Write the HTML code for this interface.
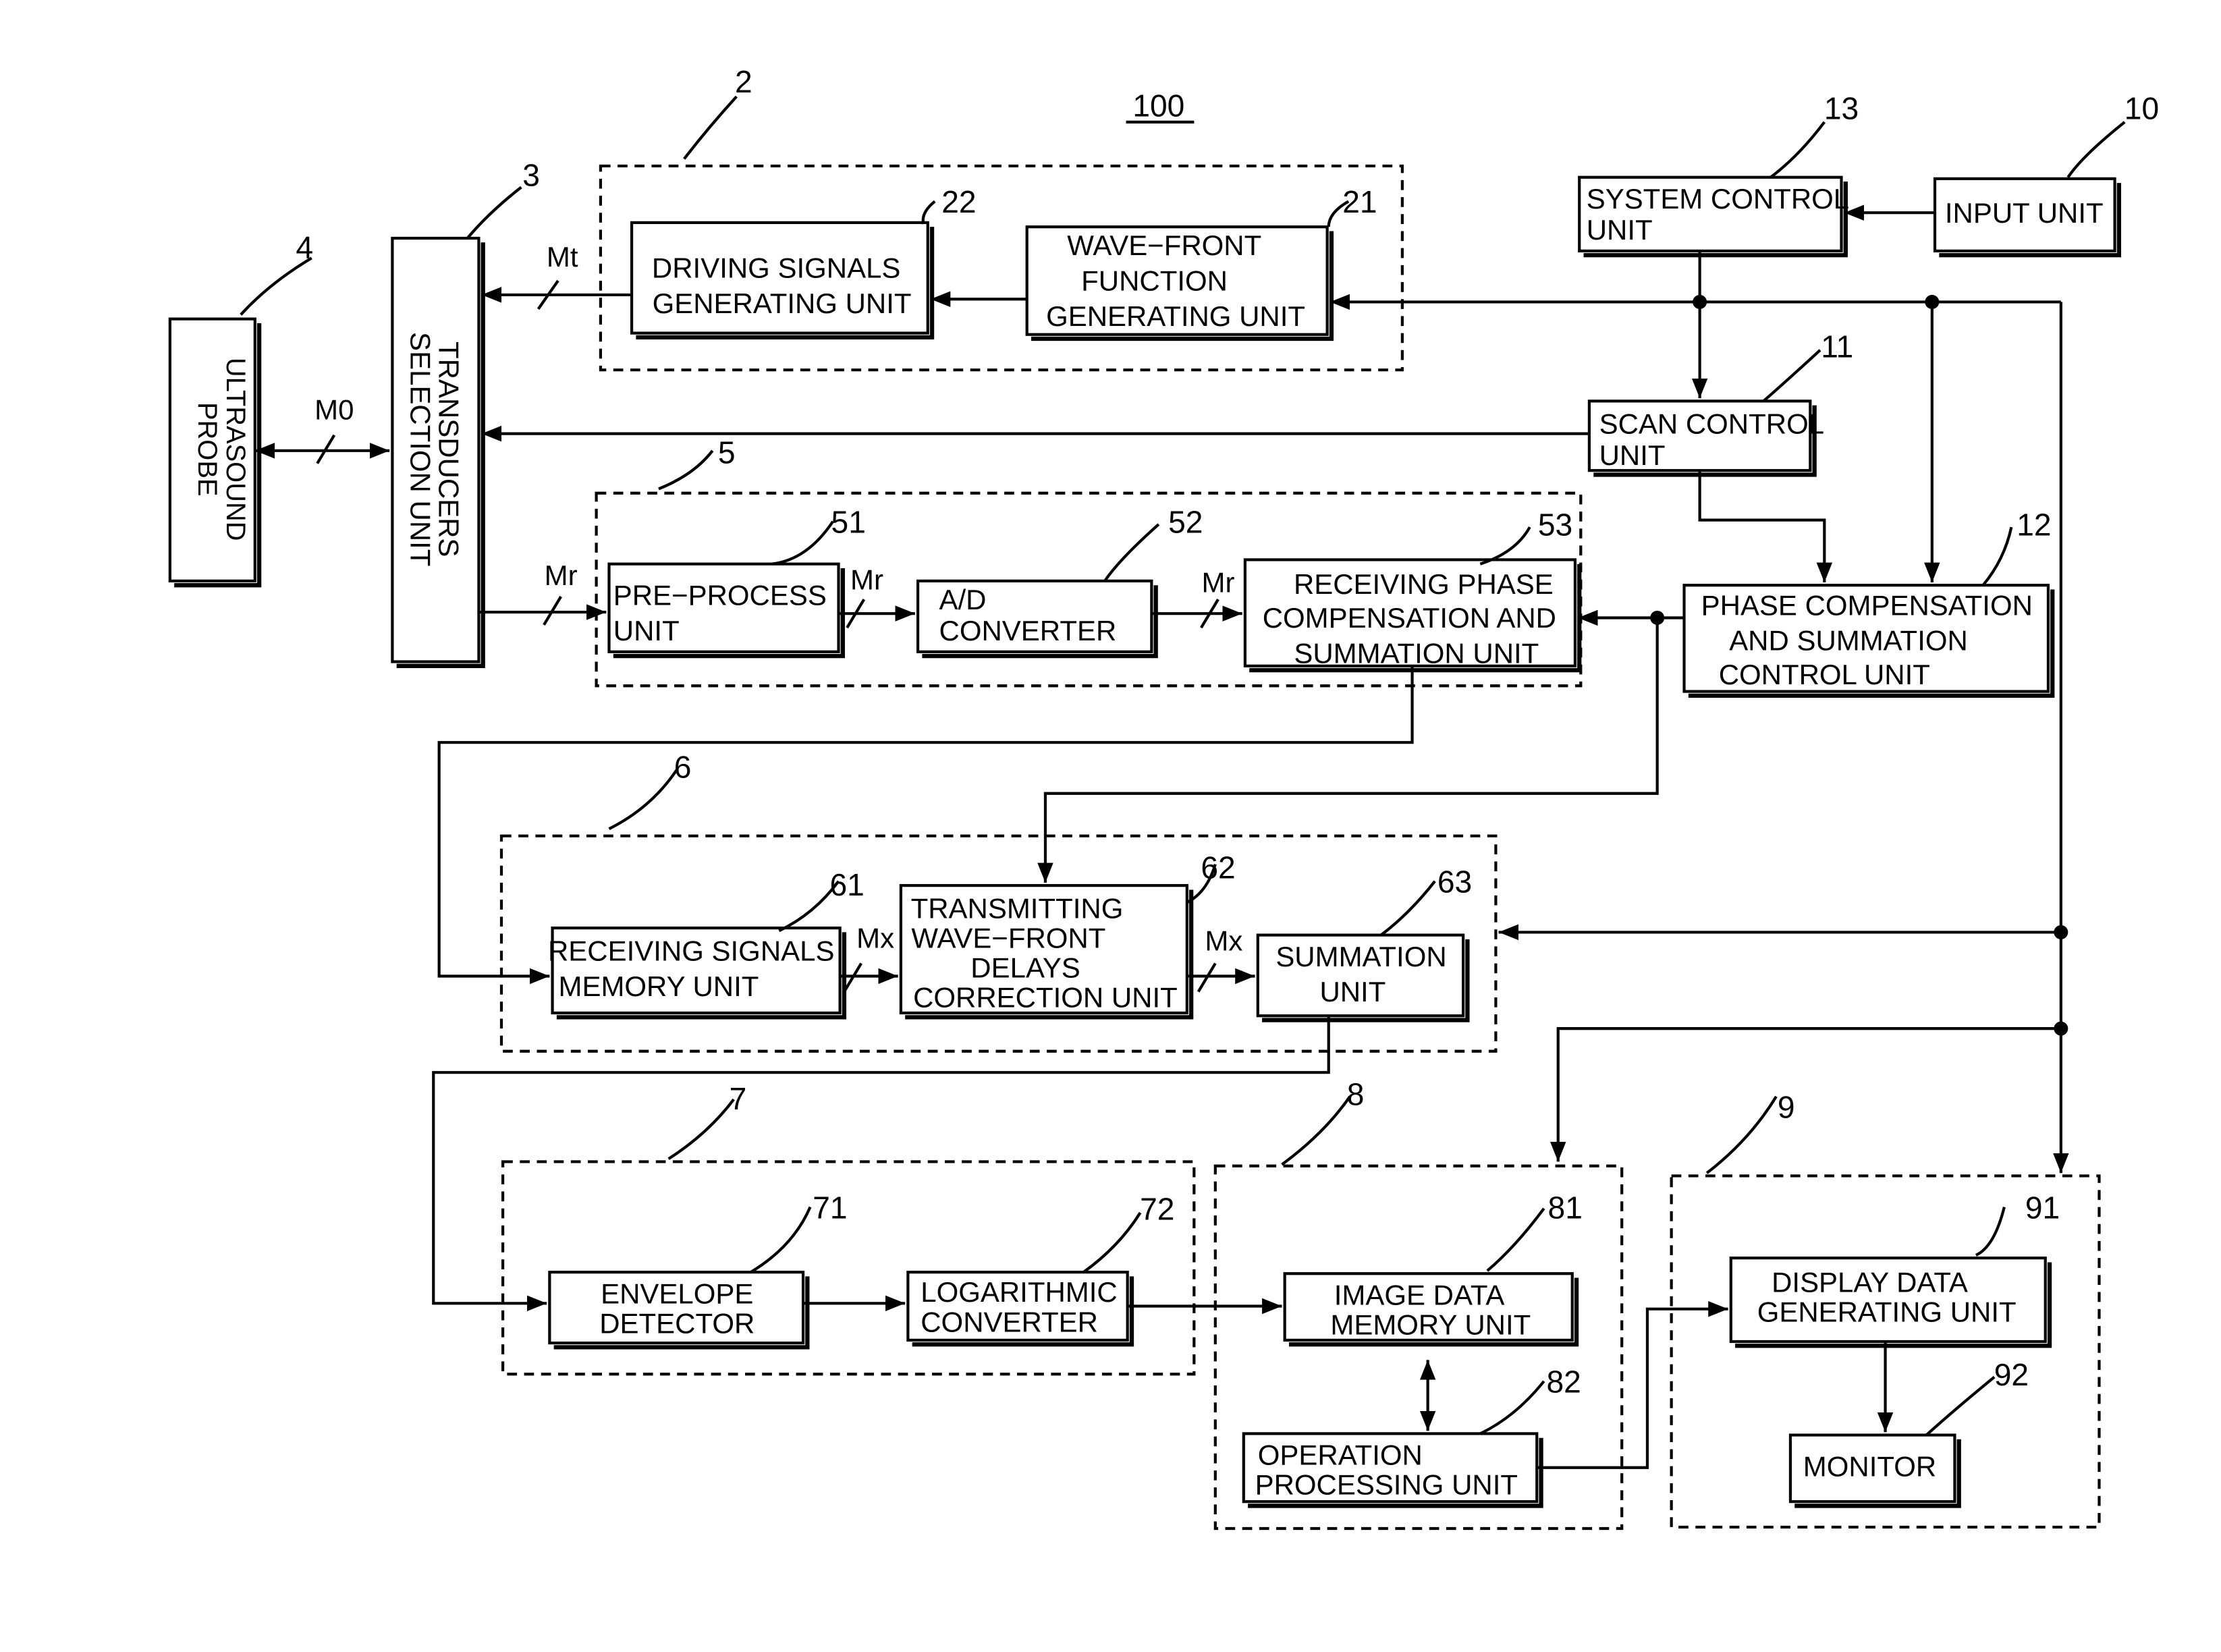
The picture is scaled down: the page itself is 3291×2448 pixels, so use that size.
<!DOCTYPE html>
<html><head><meta charset="utf-8"><style>html,body{margin:0;padding:0;background:#fff}svg{display:block}</style></head>
<body>
<svg width="3291" height="2448" viewBox="0 0 1568 1166" xmlns="http://www.w3.org/2000/svg" font-family="Liberation Sans, sans-serif" font-size="20" fill="#000">
<defs>
<marker id="a" viewBox="0 0 10 10" refX="10" refY="5" markerWidth="7" markerHeight="7" orient="auto-start-reverse"><path d="M0,1 L10,5 L0,9 z" fill="#000"/></marker>
</defs>
<g fill="none" stroke="#000" stroke-width="2">
<g stroke-dasharray="7,5">
<rect x="424" y="117" width="566" height="144"/>
<rect x="421" y="348" width="695" height="136"/>
<rect x="354" y="590" width="702" height="152"/>
<rect x="355" y="820" width="488" height="150"/>
<rect x="858" y="823" width="287" height="256"/>
<rect x="1180" y="830" width="302" height="248"/>
</g>
<g>
<rect x="120" y="225" width="60" height="185"/><path d="M183,228V413H123" stroke-width="3"/>
<rect x="277" y="168" width="61" height="299"/><path d="M341,171V470H280" stroke-width="3"/>
<rect x="446" y="157" width="209" height="78"/><path d="M658,160V238H449" stroke-width="3"/>
<rect x="725" y="160" width="212" height="76"/><path d="M940,163V239H728" stroke-width="3"/>
<rect x="1115" y="125" width="185" height="52"/><path d="M1303,128V180H1118" stroke-width="3"/>
<rect x="1366" y="126" width="127" height="51"/><path d="M1496,129V180H1369" stroke-width="3"/>
<rect x="1122" y="283" width="156" height="49"/><path d="M1281,286V335H1125" stroke-width="3"/>
<rect x="1189" y="413" width="257" height="75"/><path d="M1449,416V491H1192" stroke-width="3"/>
<rect x="430" y="398" width="162" height="62"/><path d="M595,401V463H433" stroke-width="3"/>
<rect x="648" y="410" width="165" height="50"/><path d="M816,413V463H651" stroke-width="3"/>
<rect x="879" y="395" width="233" height="75"/><path d="M1115,398V473H882" stroke-width="3"/>
<rect x="390" y="655" width="203" height="60"/><path d="M596,658V718H393" stroke-width="3"/>
<rect x="636" y="625" width="202" height="90"/><path d="M841,628V718H639" stroke-width="3"/>
<rect x="888" y="660" width="145" height="57"/><path d="M1036,663V720H891" stroke-width="3"/>
<rect x="388" y="898" width="179" height="50"/><path d="M570,901V951H391" stroke-width="3"/>
<rect x="641" y="898" width="155" height="48"/><path d="M799,901V949H644" stroke-width="3"/>
<rect x="907" y="899" width="203" height="47"/><path d="M1113,902V949H910" stroke-width="3"/>
<rect x="878" y="1012" width="207" height="48"/><path d="M1088,1015V1063H881" stroke-width="3"/>
<rect x="1222" y="888" width="222" height="59"/><path d="M1447,891V950H1225" stroke-width="3"/>
<rect x="1264" y="1013" width="116" height="47"/><path d="M1383,1016V1063H1267" stroke-width="3"/>
</g>
<g marker-end="url(#a)">
<path d="M446,208H340"/>
<path d="M725,211H657"/>
<path d="M1455,213H939"/>
<path d="M1455,213V828"/>
<path d="M1364,213V411"/>
<path d="M1200,177V281"/>
<path d="M1366,150H1302"/>
<path d="M1122,306H340"/>
<path d="M1200,332V367H1288V411"/>
<path d="M180,318H275" marker-start="url(#a)"/>
<path d="M338,432H428"/>
<path d="M592,433H646"/>
<path d="M813,433H877"/>
<path d="M1189,436H1114"/>
<path d="M1170,436V560H738V623"/>
<path d="M997,470V524H310V689H388"/>
<path d="M593,689H634"/>
<path d="M838,689H886"/>
<path d="M1455,658H1058"/>
<path d="M1455,726H1100V820"/>
<path d="M938,717V757H306V920H386"/>
<path d="M567,920H639"/>
<path d="M796,922H905"/>
<path d="M1008,960V1010" marker-start="url(#a)"/>
<path d="M1085,1036H1163V924H1220"/>
<path d="M1331,947V1011"/>
</g>
<path d="M380,218L394,198M224,327L236,307M384,441L396,421M598,443L610,423M848,443L860,423M596,700L608,680M846,700L858,680"/>
<path d="M520,68Q500,90 483,112M368,132Q345,150 330,168M220,182Q190,200 170,222M660,142Q650,150 652,158M952,142Q938,150 938,160M1288,86Q1270,110 1250,125M1500,86Q1470,110 1460,125M1285,247Q1260,270 1245,283M503,318Q490,335 465,345M588,368Q570,395 545,398M818,370Q790,395 780,410M1080,372Q1070,390 1045,398M1420,372Q1415,395 1400,413M478,543Q460,570 430,585M592,622Q575,645 550,657M858,610Q852,630 838,637M1013,622Q995,645 975,660M518,776Q500,800 472,818M572,852Q560,880 530,898M805,856Q790,880 765,898M953,774Q935,800 905,822M1090,853Q1070,880 1050,897M1090,975Q1070,1000 1045,1012M1254,774Q1235,805 1205,828M1415,852Q1408,880 1395,886M1408,972Q1380,995 1360,1013"/>
<path d="M795,86H843"/>
</g>
<g fill="#000" stroke="none">
<circle cx="1200" cy="213" r="5"/><circle cx="1364" cy="213" r="5"/><circle cx="1170" cy="436" r="5"/><circle cx="1455" cy="658" r="5"/><circle cx="1455" cy="726" r="5"/>
</g>
<g>
<text x="818" y="82" text-anchor="middle" font-size="22">100</text>
<text x="525" y="65" text-anchor="middle" font-size="22">2</text>
<text x="375" y="131" text-anchor="middle" font-size="22">3</text>
<text x="215" y="182" text-anchor="middle" font-size="22">4</text>
<text x="677" y="150" text-anchor="middle" font-size="22">22</text>
<text x="960" y="150" text-anchor="middle" font-size="22">21</text>
<text x="1300" y="84" text-anchor="middle" font-size="22">13</text>
<text x="1512" y="84" text-anchor="middle" font-size="22">10</text>
<text x="1297" y="252" text-anchor="middle" font-size="22">11</text>
<text x="513" y="327" text-anchor="middle" font-size="22">5</text>
<text x="599" y="376" text-anchor="middle" font-size="22">51</text>
<text x="837" y="376" text-anchor="middle" font-size="22">52</text>
<text x="1098" y="378" text-anchor="middle" font-size="22">53</text>
<text x="1436" y="378" text-anchor="middle" font-size="22">12</text>
<text x="482" y="549" text-anchor="middle" font-size="22">6</text>
<text x="598" y="632" text-anchor="middle" font-size="22">61</text>
<text x="860" y="620" text-anchor="middle" font-size="22">62</text>
<text x="1027" y="630" text-anchor="middle" font-size="22">63</text>
<text x="521" y="783" text-anchor="middle" font-size="22">7</text>
<text x="586" y="860" text-anchor="middle" font-size="22">71</text>
<text x="817" y="861" text-anchor="middle" font-size="22">72</text>
<text x="957" y="780" text-anchor="middle" font-size="22">8</text>
<text x="1105" y="860" text-anchor="middle" font-size="22">81</text>
<text x="1104" y="983" text-anchor="middle" font-size="22">82</text>
<text x="1261" y="789" text-anchor="middle" font-size="22">9</text>
<text x="1442" y="860" text-anchor="middle" font-size="22">91</text>
<text x="1420" y="978" text-anchor="middle" font-size="22">92</text>
<text x="397" y="188" text-anchor="middle">Mt</text>
<text x="236" y="296" text-anchor="middle">M0</text>
<text x="396" y="413" text-anchor="middle">Mr</text>
<text x="612" y="416" text-anchor="middle">Mr</text>
<text x="860" y="418" text-anchor="middle">Mr</text>
<text x="618" y="669" text-anchor="middle">Mx</text>
<text x="864" y="671" text-anchor="middle">Mx</text>
<text transform="translate(160,317) rotate(90)" text-anchor="middle" font-size="19">ULTRASOUND</text>
<text transform="translate(140,317) rotate(90)" text-anchor="middle" font-size="19">PROBE</text>
<text transform="translate(310,317) rotate(90)" text-anchor="middle">TRANSDUCERS</text>
<text transform="translate(290,317) rotate(90)" text-anchor="middle">SELECTION UNIT</text>
<text x="548" y="196" text-anchor="middle">DRIVING SIGNALS</text>
<text x="552" y="221" text-anchor="middle">GENERATING UNIT</text>
<text x="822" y="180" text-anchor="middle">WAVE−FRONT</text>
<text x="815" y="205" text-anchor="middle">FUNCTION</text>
<text x="830" y="230" text-anchor="middle">GENERATING UNIT</text>
<text x="1120" y="147">SYSTEM CONTROL</text>
<text x="1120" y="169">UNIT</text>
<text x="1429" y="157" text-anchor="middle">INPUT UNIT</text>
<text x="1129" y="306">SCAN CONTROL</text>
<text x="1129" y="328">UNIT</text>
<text x="1318" y="434" text-anchor="middle">PHASE COMPENSATION</text>
<text x="1305" y="459" text-anchor="middle">AND SUMMATION</text>
<text x="1288" y="483" text-anchor="middle">CONTROL   UNIT</text>
<text x="433" y="427">PRE−PROCESS</text>
<text x="433" y="452">UNIT</text>
<text x="663" y="430">A/D</text>
<text x="663" y="452">CONVERTER</text>
<text x="1005" y="419" text-anchor="middle">RECEIVING PHASE</text>
<text x="995" y="443" text-anchor="middle">COMPENSATION  AND</text>
<text x="1000" y="468" text-anchor="middle">SUMMATION UNIT</text>
<text x="488" y="678" text-anchor="middle">RECEIVING SIGNALS</text>
<text x="465" y="703" text-anchor="middle">MEMORY UNIT</text>
<text x="718" y="648" text-anchor="middle">TRANSMITTING</text>
<text x="712" y="669" text-anchor="middle">WAVE−FRONT</text>
<text x="724" y="690" text-anchor="middle">DELAYS</text>
<text x="738" y="711" text-anchor="middle">CORRECTION UNIT</text>
<text x="961" y="682" text-anchor="middle">SUMMATION</text>
<text x="955" y="707" text-anchor="middle">UNIT</text>
<text x="478" y="920" text-anchor="middle">ENVELOPE</text>
<text x="478" y="941" text-anchor="middle">DETECTOR</text>
<text x="650" y="919">LOGARITHMIC</text>
<text x="650" y="940">CONVERTER</text>
<text x="1002" y="921" text-anchor="middle">IMAGE DATA</text>
<text x="1010" y="942" text-anchor="middle">MEMORY UNIT</text>
<text x="888" y="1034">OPERATION</text>
<text x="886" y="1055">PROCESSING UNIT</text>
<text x="1320" y="912" text-anchor="middle">DISPLAY DATA</text>
<text x="1332" y="933" text-anchor="middle">GENERATING UNIT</text>
<text x="1320" y="1042" text-anchor="middle">MONITOR</text>
</g>
</svg>
</body></html>
